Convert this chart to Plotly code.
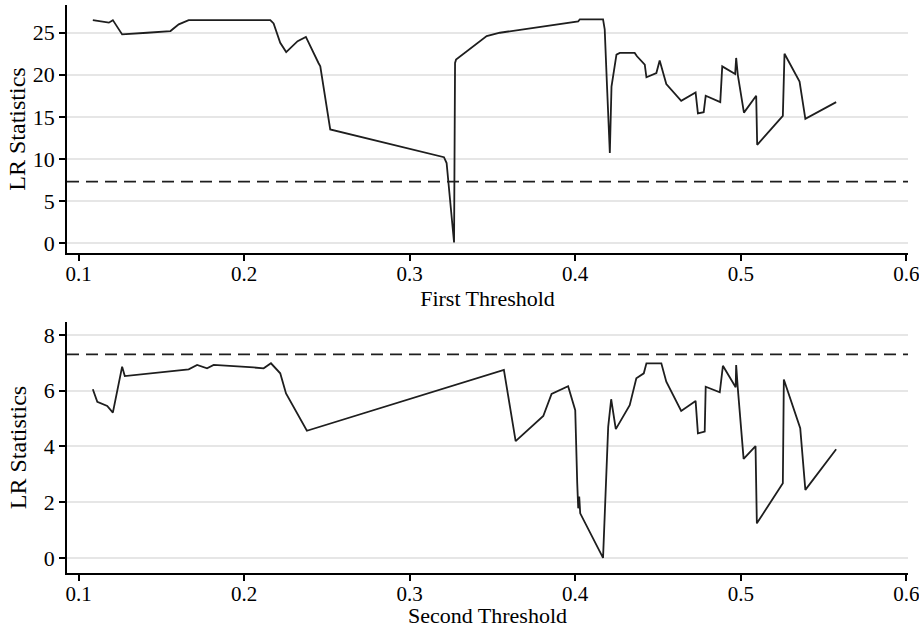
import plotly.graph_objects as go
from plotly.subplots import make_subplots

# First threshold LR statistics
x1 = [0.1086, 0.1153, 0.1183, 0.1207, 0.1263, 0.1414, 0.1555, 0.1605, 0.1665, 0.2158,
      0.2178, 0.2218, 0.2254, 0.2323, 0.2373, 0.2449, 0.2460, 0.2520, 0.3207, 0.3223,
      0.3268, 0.3274, 0.3280, 0.3465, 0.3545, 0.4018, 0.4028, 0.4168, 0.4178, 0.4192,
      0.4209, 0.4219, 0.4249, 0.4269, 0.4359, 0.4373, 0.4420, 0.4430, 0.4490, 0.4510,
      0.4530, 0.4550, 0.4640, 0.4727, 0.4741, 0.4776, 0.4788, 0.4876, 0.4888, 0.4966,
      0.4972, 0.4982, 0.5019, 0.5093, 0.5099, 0.5254, 0.5264, 0.5355, 0.5390, 0.5576]
y1 = [26.5, 26.35, 26.2, 26.5, 24.8, 25.0, 25.2, 26.0, 26.5, 26.5,
      26.1, 23.8, 22.7, 24.0, 24.5, 21.4, 21.0, 13.5, 10.2, 9.5,
      0.05, 21.4, 21.8, 24.6, 25.0, 26.35, 26.6, 26.6, 25.4, 18.6,
      10.7, 18.6, 22.4, 22.6, 22.6, 22.2, 21.2, 19.7, 20.2, 21.7,
      20.2, 18.9, 16.9, 17.9, 15.4, 15.55, 17.5, 16.75, 21.0, 20.1,
      22.0, 20.0, 15.5, 17.5, 11.67, 15.1, 22.5, 19.2, 14.76, 16.75]

# Second threshold LR statistics
x2 = [0.1086, 0.1113, 0.1173, 0.1207, 0.1263, 0.1279, 0.1665, 0.1716, 0.1776, 0.1816,
      0.2057, 0.2118, 0.2162, 0.2218, 0.2253, 0.2379, 0.3569, 0.3640, 0.3807, 0.3857,
      0.3957, 0.4000, 0.4012, 0.4018, 0.4024, 0.4030, 0.4168, 0.4199, 0.4217, 0.4245,
      0.4329, 0.4369, 0.4414, 0.4430, 0.4520, 0.4550, 0.4640, 0.4727, 0.4741, 0.4782,
      0.4788, 0.4873, 0.4892, 0.4969, 0.4972, 0.4982, 0.5017, 0.5089, 0.5097, 0.5254,
      0.5260, 0.5359, 0.5390, 0.5576]
y2 = [6.05, 5.6, 5.45, 5.21, 6.86, 6.52, 6.76, 6.92, 6.8, 6.92,
      6.83, 6.8, 6.98, 6.62, 5.9, 4.56, 6.74, 4.19, 5.09, 5.88,
      6.16, 5.3, 2.68, 1.78, 2.2, 1.6, 0.0, 4.7, 5.69, 4.62,
      5.48, 6.44, 6.62, 6.98, 6.98, 6.32, 5.27, 5.63, 4.47, 4.53,
      6.14, 5.94, 6.89, 6.12, 6.92, 6.08, 3.55, 4.01, 1.24, 2.68,
      6.4, 4.65, 2.44, 3.9]

critical_value = 7.3
x_ticks = [0.1, 0.2, 0.3, 0.4, 0.5, 0.6]
y1_ticks = [0, 5, 10, 15, 20, 25]
y2_ticks = [0, 2, 4, 6, 8]
x_titles = ["First Threshold", "Second Threshold"]
y_title = "LR Statistics"

FONT = "Liberation Serif"
LINE = "#1e1e1e"

fig = make_subplots(rows=2, cols=1, vertical_spacing=0.1215)
fig.update_yaxes(domain=[0.5634, 1.0], row=1, col=1)
fig.update_yaxes(domain=[0.0, 0.4419], row=2, col=1)

fig.add_trace(go.Scatter(x=x1, y=y1, mode="lines", line=dict(color=LINE, width=1.8),
                         showlegend=False), row=1, col=1)
fig.add_trace(go.Scatter(x=x2, y=y2, mode="lines", line=dict(color=LINE, width=1.8),
                         showlegend=False), row=2, col=1)

for yref in ["y", "y2"]:
    xref = "x domain" if yref == "y" else "x2 domain"
    fig.add_shape(type="line", xref=xref, yref=yref, x0=0, x1=1,
                  y0=critical_value, y1=critical_value,
                  line=dict(color=LINE, width=1.8, dash="12px,7px"))

axis_common = dict(showline=True, linecolor="black", linewidth=1.5, ticks="outside",
                   ticklen=6, tickwidth=1.5, tickcolor="black", automargin=False,
                   zeroline=False)

settings = [(y1_ticks, [-1.2, 28.3], 0), (y2_ticks, [-0.54, 8.46], 10)]
for r, (yt, yr, ystand) in enumerate(settings, start=1):
    fig.update_xaxes(range=[0.093, 0.601], tickvals=x_ticks,
                     ticktext=[f"{v:.1f}" for v in x_ticks], showgrid=False,
                     tickfont=dict(family=FONT, size=21, color="black"),
                     ticklabelstandoff=-5, ticklabeloverflow="allow",
                     title=dict(text=x_titles[r - 1], font=dict(family=FONT, size=22, color="black"),
                                standoff=0),
                     **axis_common, row=r, col=1)
    fig.update_yaxes(range=yr, tickvals=yt, showgrid=True, gridcolor="#e6e6e6", gridwidth=1.5,
                     tickfont=dict(family=FONT, size=22, color="black"),
                     title=dict(text=y_title, font=dict(family=FONT, size=24, color="black"),
                                standoff=ystand),
                     **axis_common, row=r, col=1)

fig.update_layout(width=919, height=628, margin=dict(l=67, r=11, t=5, b=55),
                  plot_bgcolor="white", paper_bgcolor="white",
                  font=dict(family=FONT, color="black"))

fig.write_html("out.html", config={"displayModeBar": False},
               post_script="document.body.style.margin='0';")
